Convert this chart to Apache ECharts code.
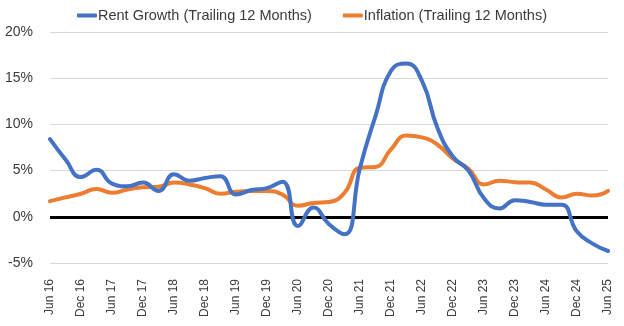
<!DOCTYPE html>
<html>
<head>
<meta charset="utf-8">
<script src="https://cdn.jsdelivr.net/npm/echarts@6/dist/echarts.min.js"></script>
<style>
html,body{margin:0;padding:0;background:#fff;}
#chart{width:624px;height:326px;}
</style>
</head>
<body>
<div id="chart"></div>
<script>
var categories = ['Jun 16','Sep 16','Dec 16','Mar 17','Jun 17','Sep 17','Dec 17','Mar 18','Jun 18','Sep 18','Dec 18','Mar 19','Jun 19','Sep 19','Dec 19','Mar 20','Jun 20','Sep 20','Dec 20','Mar 21','Jun 21','Sep 21','Dec 21','Mar 22','Jun 22','Sep 22','Dec 22','Mar 23','Jun 23','Sep 23','Dec 23','Mar 24','Jun 24','Sep 24','Dec 24','Mar 25','Jun 25'];
var rentGrowth = [8.4, 6.2, 4.3, 5.1, 3.6, 3.3, 3.7, 2.8, 4.6, 3.9, 4.2, 4.4, 2.4, 2.9, 3.1, 3.8, -1.0, 1.0, -0.8, -1.9, 5.3, 10.9, 15.8, 16.6, 14.7, 9.6, 6.5, 5.0, 2.0, 0.9, 1.8, 1.6, 1.3, 1.3, -1.6, -2.9, -3.7];
var inflation = [1.7, 2.1, 2.5, 3.0, 2.6, 2.95, 3.2, 3.25, 3.7, 3.5, 3.1, 2.5, 2.7, 2.8, 2.8, 2.4, 1.2, 1.5, 1.6, 2.6, 5.3, 5.4, 7.3, 8.8, 8.6, 7.8, 6.3, 5.2, 3.5, 3.9, 3.75, 3.7, 2.95, 2.1, 2.5, 2.3, 2.8];
var seriesNames = ['Rent Growth (Trailing 12 Months)', 'Inflation (Trailing 12 Months)'];
var yTicks = {min: -5, max: 20, interval: 5};

var chart = echarts.init(document.getElementById('chart'), null, {renderer: 'canvas'});
var font = 'Liberation Sans, Arial, sans-serif';
chart.setOption({
  animation: false,
  textStyle: {fontFamily: font},
  legend: {
    top: 3,
    left: 'center',
    itemWidth: 20,
    itemHeight: 4,
    itemGap: 31,
    icon: 'roundRect',
    textStyle: {fontSize: 14.5, color: '#3a3a3a', fontFamily: font, padding: [0,0,0,-4]},
    data: seriesNames
  },
  grid: {left: 50, right: 16, top: 32, bottom: 63},
  xAxis: {
    type: 'category',
    data: categories,
    boundaryGap: false,
    axisLine: {show: false},
    axisTick: {show: false},
    splitLine: {show: false},
    axisLabel: {
      interval: 1,
      rotate: 90,
      margin: 16,
      fontSize: 12,
      color: '#3a3a3a',
      fontFamily: font
    }
  },
  yAxis: {
    type: 'value',
    min: yTicks.min,
    max: yTicks.max,
    interval: yTicks.interval,
    axisLine: {show: false},
    axisTick: {show: false},
    splitLine: {lineStyle: {color: '#d9d9d9', width: 1}},
    axisLabel: {
      formatter: '{value}%',
      margin: 17,
      fontSize: 14,
      color: '#3a3a3a',
      fontFamily: font
    }
  },
  series: [
    {
      name: seriesNames[0],
      type: 'line',
      data: rentGrowth,
      smooth: 0.5,
      showSymbol: false,
      symbol: 'none',
      lineStyle: {color: '#4472C4', width: 4, cap: 'round'},
      itemStyle: {color: '#4472C4'},
      z: 3,
      markLine: {
        silent: true,
        symbol: 'none',
        label: {show: false},
        lineStyle: {color: '#000', width: 3, type: 'solid'},
        data: [{yAxis: 0}],
        z: 1
      }
    },
    {
      name: seriesNames[1],
      type: 'line',
      data: inflation,
      smooth: 0.5,
      showSymbol: false,
      symbol: 'none',
      lineStyle: {color: '#ED7D31', width: 4, cap: 'round'},
      itemStyle: {color: '#ED7D31'},
      z: 2
    }
  ]
});
</script>
</body>
</html>
